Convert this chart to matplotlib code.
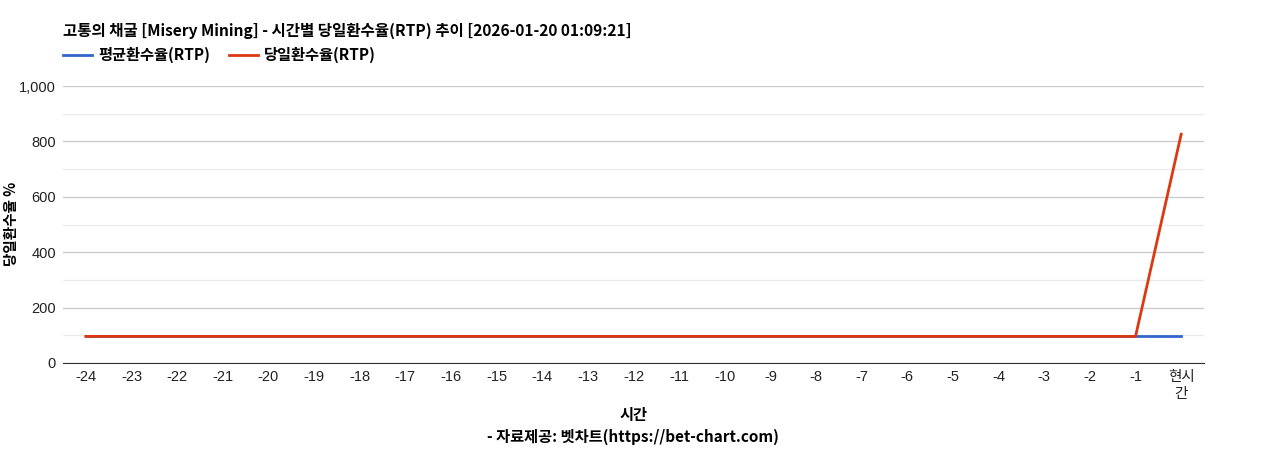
import matplotlib
matplotlib.use("Agg")
import matplotlib.pyplot as plt
import numpy as np

plt.rcParams['font.family'] = ['Liberation Sans', 'Noto Sans CJK KR', 'DejaVu Sans']

# data
hours = ['-24', '-23', '-22', '-21', '-20', '-19', '-18', '-17', '-16', '-15', '-14', '-13',
         '-12', '-11', '-10', '-9', '-8', '-7', '-6', '-5', '-4', '-3', '-2', '-1', '현시\n간']
avg_rtp = [96] * 25
today_rtp = [96] * 24 + [826]

title = '고통의 채굴 [Misery Mining] - 시간별 당일환수율(RTP) 추이 [2026-01-20 01:09:21]'
kr = ['Noto Sans CJK KR', 'DejaVu Sans']

fig = plt.figure(figsize=(12.68, 4.5), dpi=100)
ax = fig.add_axes([63 / 1268, 1 - 363 / 450, 1141 / 1268, 277 / 450])

x = np.arange(len(hours))
ax.plot(x, avg_rtp, color='#3366cc', lw=2, label='평균환수율(RTP)')
ax.plot(x, today_rtp, color='#dc3912', lw=2, label='당일환수율(RTP)')

ax.set_xlim(-0.5, len(hours) - 0.5)
ax.set_ylim(0, 1000)
ax.set_yticks(np.arange(0, 1001, 200))
ax.set_yticks(np.arange(100, 1000, 200), minor=True)
ax.set_yticklabels(['0', '200', '400', '600', '800', '1,000'])
ax.set_xticks(x)
ax.set_xticklabels(hours, linespacing=1.3)
ax.tick_params(axis='both', length=0, labelsize=10.5, colors='#222222', pad=5)
ax.tick_params(axis='y', which='minor', length=0)
ax.grid(axis='y', which='major', color='#cccccc', lw=1)
ax.grid(axis='y', which='minor', color='#ebebeb', lw=1)
ax.set_axisbelow(True)
for s in ['top', 'right', 'left']:
    ax.spines[s].set_visible(False)
ax.spines['bottom'].set_color('#333333')

fig.text(11 / 1268, 1 - 224 / 450, '당일환수율 %', family=kr, fontsize=10.5, fontweight='bold',
         rotation=90, ha='center', va='center')
fig.text(634 / 1268, 1 - 415 / 450, '시간', family=kr, fontsize=11, fontweight='bold',
         ha='center', va='center')
fig.text(633 / 1268, 1 - 437 / 450, '- 자료제공: 벳차트(https://bet-chart.com)', family=kr,
         fontsize=11, fontweight='bold', ha='center', va='center')
fig.text(63 / 1268, 1 - 31 / 450, title, family=kr, fontsize=11.2, fontweight='bold',
         ha='left', va='center')

leg = fig.legend(loc='center left', bbox_to_anchor=(63 / 1268, 1 - 55 / 450), ncol=2,
                 frameon=False, borderpad=0, borderaxespad=0,
                 handlelength=1.9, columnspacing=1.25, handletextpad=0.4,
                 prop={'family': kr, 'size': 11, 'weight': 'bold'})

fig.savefig('out.png', dpi=100)
